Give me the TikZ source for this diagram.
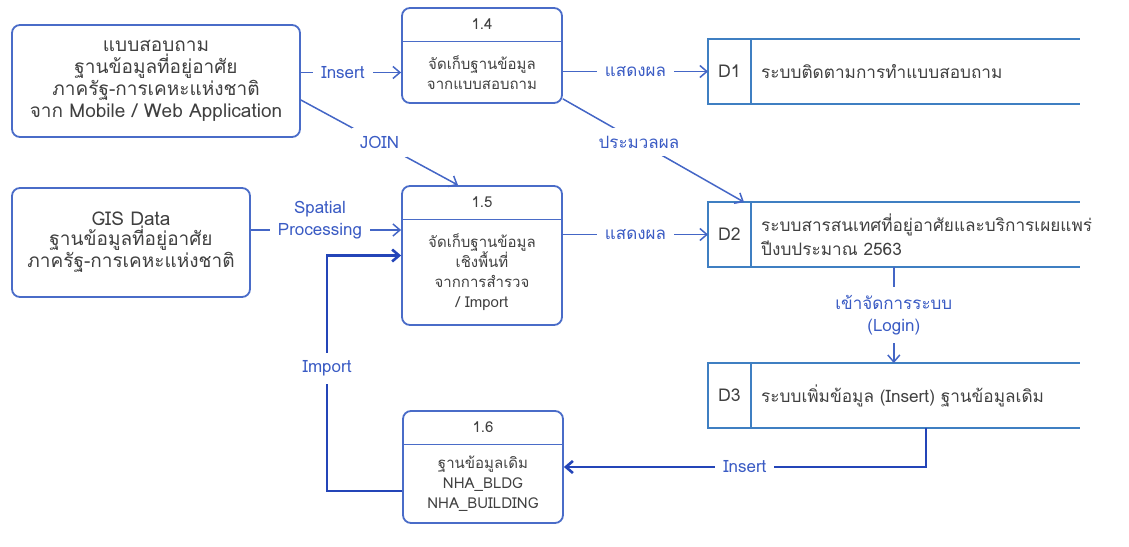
\documentclass[tikz,border=0pt]{standalone}
\usepackage{fontspec}
\setmainfont[Script=Thai]{Loma}
\usepackage{tikz}
\usetikzlibrary{arrows.meta}
\definecolor{boxblue}{HTML}{4A6CC8}
\definecolor{storeblue}{HTML}{3F7FC2}
\definecolor{flowblue}{HTML}{4466C6}
\definecolor{darkflow}{HTML}{2445B8}
\definecolor{lblblue}{HTML}{3A5BC4}
\definecolor{txtgray}{HTML}{404040}
\tikzset{
    ent/.style={draw=boxblue, line width=0.9pt, rounded corners=4pt, align=center, text=txtgray, inner sep=0pt},
    proc/.style={draw=boxblue, line width=0.9pt, rounded corners=4pt, minimum width=80pt, inner sep=0pt},
    procsep/.style={draw=boxblue, line width=0.6pt},
    procnum/.style={text=txtgray, font=\fontsize{7.5}{9}\selectfont},
    proctxt/.style={text=txtgray, align=center, font=\fontsize{7.5}{10}\selectfont},
    storeid/.style={minimum width=21pt, minimum height=32pt, inner sep=0pt, text=txtgray, font=\fontsize{8.8}{11}\selectfont},
    storetxt/.style={text=txtgray, align=left, inner sep=5pt, font=\fontsize{8.6}{12}\selectfont},
    storeline/.style={draw=storeblue, line width=0.75pt},
    flow/.style={draw=flowblue, line width=0.75pt, -{Straight Barb[length=3.5pt, width=6pt]}},
    boldflow/.style={draw=darkflow, line width=1.3pt, -{Straight Barb[length=3.5pt, width=6pt]}},
    lbl/.style={fill=white, text=lblblue, align=center, inner sep=4pt, font=\fontsize{8.5}{11}\selectfont}
}
\newcommand{\dfdproc}[5]{
    \node[proc, minimum height=#3] (#1) at #2 {};
    \draw[procsep] ([yshift=-17pt]#1.north west) -- ([yshift=-17pt]#1.north east);
    \node[procnum] (#1n) at ([yshift=-8.5pt]#1.north) {#4};
    \path ([yshift=-17pt]#1.north) -- (#1.south) node[midway, proctxt] (#1t) {#5};
}
\newcommand{\dfdstore}[4]{
    \node[storeid, anchor=west] (#1) at #2 {#3};
    \node[storetxt, anchor=west] (#1t) at (#1.east) {#4};
    \draw[storeline] (#1.north west) rectangle (#1.south east);
    \draw[storeline] (#1.north east) -- (#1.north east -| rim) (#1.south east) -- (#1.south east -| rim);
}

\begin{document}
\begin{tikzpicture}[x=0.5pt, y=-0.5pt]
    \useasboundingbox (0,0) rectangle (1129,546);
    \coordinate (rim) at (1080,0);

    \node[ent, minimum width=144pt, minimum height=56pt, font=\fontsize{9.5}{11}\selectfont] (b1) at (156,81)
        {แบบสอบถาม\\ฐานข้อมูลที่อยู่อาศัย\\ภาครัฐ-การเคหะแห่งชาติ\\จาก Mobile / Web Application};
    \node[ent, minimum width=119pt, minimum height=54.5pt, font=\fontsize{9.5}{10}\selectfont] (b2) at (131,242.5)
        {GIS Data\\ฐานข้อมูลที่อยู่อาศัย\\ภาครัฐ-การเคหะแห่งชาติ};

    \dfdproc{p14}{(482,55.5)}{47.5pt}{1.4}{จัดเก็บฐานข้อมูล\\จากแบบสอบถาม}
    \dfdproc{p15}{(482,255.5)}{69.5pt}{1.5}{จัดเก็บฐานข้อมูล\\เชิงพื้นที่\\จากการสำรวจ\\/ Import}
    \dfdproc{p16}{(483,467)}{56pt}{1.6}{ฐานข้อมูลเดิม\\NHA\_BLDG\\NHA\_BUILDING}

    \dfdstore{d1}{(708,71.5)}{D1}{ระบบติดตามการทำแบบสอบถาม}
    \dfdstore{d2}{(708,234.5)}{D2}{ระบบสารสนเทศที่อยู่อาศัยและบริการเผยแพร่\\ปีงบประมาณ 2563}
    \dfdstore{d3}{(708,395.5)}{D3}{ระบบเพิ่มข้อมูล (Insert) ฐานข้อมูลเดิม}

    \draw[flow] (p14t -| b1.east) -- node[lbl, pos=0.42] {Insert} (p14t -| p14.west);
    \draw[flow] ([yshift=-9.5pt]b1.east) -- node[lbl] {JOIN} ([xshift=-12pt]p15.north);
    \draw[flow] (p14.east |- d1.west) -- node[lbl] {แสดงผล} (d1.west);
    \draw[flow] ([yshift=2.5pt]p14.south east) -- node[lbl, pos=0.42] {ประมวลผล} ([xshift=18pt]d2.north west);
    \draw[flow] ([yshift=12.75pt]p15.west -| b2.east) -- node[lbl, pos=0.46, yshift=5pt] {Spatial\\Processing} ([yshift=12.75pt]p15.west);
    \draw[flow] (p15.east |- d2.west) -- node[lbl] {แสดงผล} (d2.west);
    \draw[flow] ([xshift=71.5pt]d2.south east) -- node[lbl] {เข้าจัดการระบบ\\(Login)} ([xshift=71.5pt]d3.north east);
    \draw[boldflow] ([xshift=87.5pt]d3.south east) |- node[lbl, pos=0.75] {Insert} (p16.east);
    \draw[boldflow] ([yshift=-12pt]p16.west) -- ++(-75,0) |- node[lbl, pos=0.26] {Import} (p15.west);
\end{tikzpicture}
\end{document}
